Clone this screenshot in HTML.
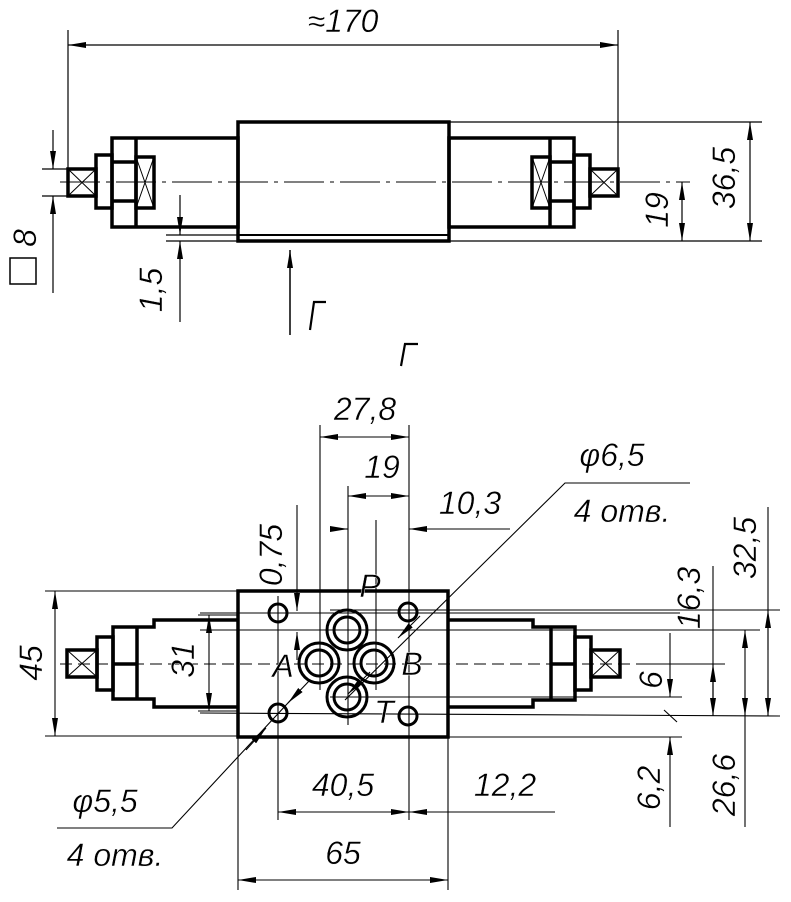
<!DOCTYPE html>
<html><head><meta charset="utf-8"><style>
html,body{margin:0;padding:0;background:#fff}
svg{display:block}
text{font-family:"Liberation Sans",sans-serif;font-style:italic;font-size:32px;fill:#000;stroke:#fff;stroke-width:0.4}
</style></head><body>
<svg width="791" height="902" viewBox="0 0 791 902" xmlns="http://www.w3.org/2000/svg">
<defs>
<marker id="a" viewBox="0 0 18 6" refX="18" refY="3" markerWidth="18" markerHeight="6" markerUnits="userSpaceOnUse" orient="auto-start-reverse"><path d="M0,0 L18,3 L0,6 Z" fill="#000"/></marker>
</defs>
<g fill="none" stroke="#000">
<g stroke-width="1.2">
<line x1="68" y1="30" x2="68" y2="170"/>
<line x1="618" y1="30" x2="618" y2="170"/>
<line x1="68" y1="45" x2="618" y2="45" marker-start="url(#a)" marker-end="url(#a)"/>
</g>
<g stroke-width="3.5">
<rect x="238" y="122" width="211" height="119"/>
<line x1="238" y1="235" x2="449" y2="235" stroke-width="2"/>
<rect x="112" y="138" width="126" height="89"/>
<line x1="136" y1="138" x2="136" y2="227"/>
<line x1="112" y1="162" x2="136" y2="162"/>
<line x1="112" y1="201" x2="136" y2="201"/>
<rect x="96" y="155" width="16" height="53"/>
<rect x="136" y="157" width="18" height="51"/>
<rect x="68" y="169" width="28" height="27"/>
<rect x="449" y="138" width="125" height="89"/>
<line x1="550" y1="138" x2="550" y2="227"/>
<line x1="550" y1="162" x2="574" y2="162"/>
<line x1="550" y1="201" x2="574" y2="201"/>
<rect x="574" y="155" width="16" height="53"/>
<rect x="532" y="157" width="18" height="51"/>
<rect x="590" y="169" width="28" height="27"/>
</g>
<g stroke-width="1">
<path d="M68,169 L96,196 M96,169 L68,196 M136,157 L154,208 M154,157 L136,208 M590,169 L618,196 M618,169 L590,196 M532,157 L550,208 M550,157 L532,208"/>
<line x1="60" y1="182" x2="690" y2="182" stroke-dasharray="40,6,4,6"/>
</g>
<g stroke-width="1.2">
<line x1="42" y1="169" x2="68" y2="169"/><line x1="42" y1="196" x2="68" y2="196"/>
<line x1="53" y1="130" x2="53" y2="169" marker-end="url(#a)"/>
<line x1="53" y1="293" x2="53" y2="196" marker-end="url(#a)"/>
<line x1="166" y1="235" x2="238" y2="235"/><line x1="166" y1="241" x2="238" y2="241"/>
<line x1="180" y1="195" x2="180" y2="235" marker-end="url(#a)"/>
<line x1="180" y1="322" x2="180" y2="241" marker-end="url(#a)"/>
<line x1="290" y1="335" x2="290" y2="250" marker-end="url(#a)" stroke-width="1.5"/>
<line x1="449" y1="122" x2="762" y2="122"/><line x1="449" y1="241" x2="762" y2="241"/>
<line x1="682" y1="182" x2="682" y2="241" marker-start="url(#a)" marker-end="url(#a)"/>
<line x1="750" y1="122" x2="750" y2="241" marker-start="url(#a)" marker-end="url(#a)"/>
</g>
<rect x="10" y="258" width="26" height="26" stroke-width="1.5"/>
<path d="M310,330 L314,302 L326,302" stroke-width="2.2"/>
<path d="M401,366 L405,344 L418,344" stroke-width="2.2"/>

<g stroke-width="3.5">
<rect x="238" y="591" width="210" height="146"/>
<path d="M238,620 H154 V627 H113 V699 H154 V707 H238"/>
<line x1="137" y1="627" x2="137" y2="699"/>
<line x1="113" y1="664" x2="137" y2="664"/>
<rect x="97" y="637" width="16" height="53"/>
<rect x="67" y="650" width="30" height="27"/>
<path d="M448,620 H533 V627 H575 V700 H533 V707 H448"/>
<line x1="551" y1="627" x2="551" y2="700"/>
<line x1="551" y1="664" x2="575" y2="664"/>
<rect x="575" y="637" width="16" height="53"/>
<rect x="591" y="650" width="29" height="27"/>
</g>
<g stroke-width="1">
<path d="M67,650 L97,677 M97,650 L67,677 M591,650 L620,677 M620,650 L591,677"/>
<line x1="60" y1="664" x2="640" y2="664" stroke-dasharray="12,6"/>
</g>
<g stroke-width="3">
<circle cx="278" cy="613" r="9"/><circle cx="408" cy="612" r="9"/>
<circle cx="278" cy="713" r="9"/><circle cx="408" cy="716" r="9"/>
<circle cx="347" cy="630" r="20"/><circle cx="347" cy="630" r="13"/>
<circle cx="319" cy="663" r="20"/><circle cx="319" cy="663" r="13"/>
<circle cx="374" cy="663" r="20"/><circle cx="374" cy="663" r="13"/>
<circle cx="347" cy="697" r="20"/><circle cx="347" cy="697" r="13"/>
</g>
<g stroke-width="1.1">
<line x1="278" y1="596" x2="278" y2="820"/>
<line x1="320" y1="425" x2="320" y2="690"/>
<line x1="348" y1="486" x2="348" y2="725"/>
<line x1="376" y1="520" x2="376" y2="690"/>
<line x1="409" y1="425" x2="409" y2="820"/>
<line x1="238" y1="737" x2="238" y2="890"/>
<line x1="448" y1="737" x2="448" y2="890"/>
<line x1="200" y1="613" x2="680" y2="613"/>
<line x1="200" y1="630" x2="760" y2="630"/>
<line x1="200" y1="713" x2="780" y2="716"/>
<line x1="330" y1="697" x2="682" y2="697"/>
<line x1="238" y1="737" x2="682" y2="737"/>
<line x1="330" y1="610" x2="780" y2="610"/>
<line x1="640" y1="664" x2="725" y2="664"/>
<line x1="320" y1="437" x2="409" y2="437" marker-start="url(#a)" marker-end="url(#a)"/>
<line x1="348" y1="496" x2="409" y2="496" marker-start="url(#a)" marker-end="url(#a)"/>
<line x1="337" y1="529" x2="348" y2="529" marker-end="url(#a)"/>
<line x1="510" y1="529" x2="409" y2="529" marker-end="url(#a)"/>
<line x1="297" y1="505" x2="297" y2="611" marker-end="url(#a)"/>
<line x1="297" y1="660" x2="297" y2="632" marker-end="url(#a)"/>
<line x1="198" y1="615" x2="238" y2="615"/><line x1="198" y1="711" x2="238" y2="711"/>
<line x1="209" y1="615" x2="209" y2="711" marker-start="url(#a)" marker-end="url(#a)"/>
<line x1="45" y1="591" x2="238" y2="591"/><line x1="45" y1="736" x2="238" y2="736"/>
<line x1="55" y1="591" x2="55" y2="736" marker-start="url(#a)" marker-end="url(#a)"/>
<line x1="670" y1="633" x2="670" y2="697" marker-end="url(#a)"/>
<line x1="670" y1="827" x2="670" y2="737" marker-end="url(#a)"/>
<line x1="664" y1="710" x2="677" y2="722"/>
<line x1="713" y1="566" x2="713" y2="716"/>
<line x1="713" y1="700" x2="713" y2="664" marker-end="url(#a)"/>
<line x1="713" y1="680" x2="713" y2="716" marker-end="url(#a)"/>
<line x1="745" y1="630" x2="745" y2="827" marker-start="url(#a)"/>
<line x1="745" y1="690" x2="745" y2="716" marker-end="url(#a)"/>
<line x1="768" y1="507" x2="768" y2="716"/>
<line x1="768" y1="650" x2="768" y2="610" marker-end="url(#a)"/>
<line x1="768" y1="680" x2="768" y2="716" marker-end="url(#a)"/>
<line x1="278" y1="812" x2="409" y2="812" marker-start="url(#a)" marker-end="url(#a)"/>
<line x1="555" y1="812" x2="409" y2="812" marker-end="url(#a)"/>
<line x1="238" y1="880" x2="448" y2="880" marker-start="url(#a)" marker-end="url(#a)"/>
<path d="M690,483 H565 L345,700"/>
<line x1="420" y1="616" x2="398" y2="638" marker-end="url(#a)"/>
<line x1="370" y1="672" x2="348" y2="694" marker-end="url(#a)"/>
<path d="M57,828 H172 L300,690"/>
<line x1="310" y1="680" x2="288" y2="703" marker-end="url(#a)"/>
<line x1="246" y1="750" x2="266" y2="728" marker-end="url(#a)"/>
</g>
</g>
<text x="343" y="32" text-anchor="middle">≈170</text>
<text transform="translate(36,238) rotate(-90)" text-anchor="middle">8</text>
<text transform="translate(162,290) rotate(-90)" text-anchor="middle">1,5</text>
<text transform="translate(668,210) rotate(-90)" text-anchor="middle">19</text>
<text transform="translate(735,178) rotate(-90)" text-anchor="middle">36,5</text>
<text x="365" y="420" text-anchor="middle">27,8</text>
<text x="382" y="478" text-anchor="middle">19</text>
<text x="470" y="514" text-anchor="middle">10,3</text>
<text x="612" y="466" text-anchor="middle">φ6,5</text>
<text x="622" y="522" text-anchor="middle">4 отв.</text>
<text transform="translate(282,555) rotate(-90)" text-anchor="middle">0,75</text>
<text x="370" y="597" text-anchor="middle">P</text>
<text x="283" y="677" text-anchor="middle">A</text>
<text x="412" y="675" text-anchor="middle">B</text>
<text x="384" y="723" text-anchor="middle">T</text>
<text transform="translate(194,660) rotate(-90)" text-anchor="middle">31</text>
<text transform="translate(42,663) rotate(-90)" text-anchor="middle">45</text>
<text transform="translate(662,680) rotate(-90)" text-anchor="middle">6</text>
<text transform="translate(700,598) rotate(-90)" text-anchor="middle">16,3</text>
<text transform="translate(756,548) rotate(-90)" text-anchor="middle">32,5</text>
<text transform="translate(660,788) rotate(-90)" text-anchor="middle">6,2</text>
<text transform="translate(735,785) rotate(-90)" text-anchor="middle">26,6</text>
<text x="343" y="796" text-anchor="middle">40,5</text>
<text x="505" y="796" text-anchor="middle">12,2</text>
<text x="343" y="864" text-anchor="middle">65</text>
<text x="105" y="812" text-anchor="middle">φ5,5</text>
<text x="115" y="866" text-anchor="middle">4 отв.</text>
</svg>
</body></html>
